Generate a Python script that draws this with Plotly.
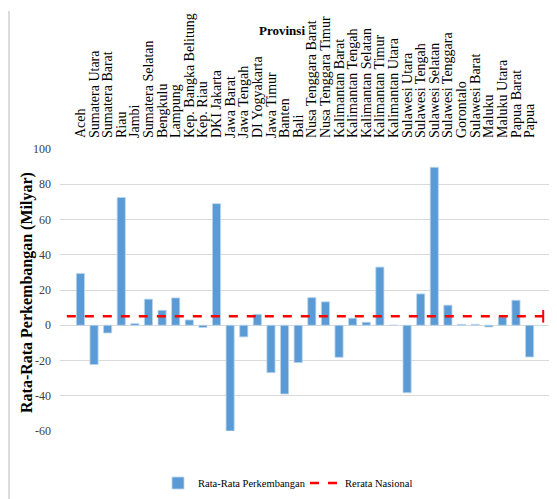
import plotly.graph_objects as go

provinsi = ["Aceh", "Sumatera Utara", "Sumatera Barat", "Riau", "Jambi", "Sumatera Selatan",
            "Bengkulu", "Lampung", "Kep. Bangka Belitung", "Kep. Riau", "DKI Jakarta",
            "Jawa Barat", "Jawa Tengah", "DI Yogyakarta", "Jawa Timur", "Banten", "Bali",
            "Nusa Tenggara Barat", "Nusa Tenggara Timur", "Kalimantan Barat", "Kalimantan Tengah",
            "Kalimantan Selatan", "Kalimantan Timur", "Kalimantan Utara", "Sulawesi Utara",
            "Sulawesi Tengah", "Sulawesi Selatan", "Sulawesi Tenggara", "Gorontalo",
            "Sulawesi Barat", "Maluku", "Maluku Utara", "Papua Barat", "Papua"]
rata_rata = [29.4, -22.3, -4.4, 72.5, 1.0, 14.8, 8.5, 15.5, 3.0, -1.3, 69.0,
             -60.0, -6.6, 6.2, -26.9, -39.0, -21.2, 15.7, 13.3, -18.2, 4.0,
             1.7, 33.0, 0.0, -38.3, 17.8, 89.6, 11.4, 0.5, 0.5, -1.0, 4.7, 14.2, -18.0]
rerata_nasional = 5.1
y_ticks = [-60, -40, -20, 0, 20, 40, 60, 80, 100]
y_ticktext = [str(v) for v in y_ticks]

serif = "Liberation Serif"
idx = list(range(len(provinsi)))

fig = go.Figure()
fig.add_trace(go.Bar(
    x=idx, y=rata_rata, name="Rata-Rata Perkembangan", width=0.6,
    marker=dict(color="#5B9BD5", line=dict(color="#BDD7EE", width=0.8)),
))
line_x = [-1, len(provinsi)]
fig.add_trace(go.Scatter(
    x=line_x, y=[rerata_nasional] * 2, name="Rerata Nasional", mode="lines",
    line=dict(color="#FF0000", width=2.5, dash="dash"),
))
fig.add_trace(go.Scatter(
    x=line_x[1:], y=[rerata_nasional], mode="markers", showlegend=False,
    marker=dict(symbol="line-ns-open", size=9, color="#FF0000",
                line=dict(color="#FF0000", width=2)),
    hoverinfo="skip", cliponaxis=False,
))

# page has an 8px body margin; reference pixel positions are offset by it
OFF = 8
W, H = 557, 499
plot_l, plot_r, plot_t, plot_b = 60 - OFF, 550 - OFF, 149 - OFF, 431 - OFF
L, R, T, B = plot_l, W - plot_r, plot_t, H - plot_b
pw, ph = plot_r - plot_l, plot_b - plot_t


def px(x):
    return (x - OFF - plot_l) / pw


def py(y):
    return (plot_b - (y - OFF)) / ph


fig.update_layout(
    width=W, height=H,
    margin=dict(l=L, r=R, t=T, b=B, autoexpand=False),
    plot_bgcolor="white", paper_bgcolor="white",
    font=dict(family=serif, color="#000000"),
    showlegend=True,
    legend=dict(orientation="h", x=px(158), y=py(483),
                xanchor="left", yanchor="middle",
                font=dict(family=serif, size=10.5, color="#000000"),
                entrywidth=102, entrywidthmode="pixels",
                tracegroupgap=0),
    bargap=0.4,
    xaxis=dict(
        side="top", tickmode="array", tickvals=idx, ticktext=provinsi,
        tickangle=-90, range=[-1.5, len(provinsi) + 0.5], automargin=False,
        showgrid=False, zeroline=False, showline=False, ticks="",
        tickfont=dict(family=serif, size=14, color="#000000"),
        ticklabelstandoff=10,
    ),
    yaxis=dict(
        range=[-60, 100], tickmode="array", tickvals=y_ticks, ticktext=y_ticktext,
        showgrid=True, gridcolor="#D9D9D9", gridwidth=1, zeroline=False,
        showline=False, ticks="", automargin=False,
        tickfont=dict(family=serif, size=12, color="#404040"),
        ticklabelstandoff=8,
    ),
    annotations=[
        dict(text="<b>Provinsi</b>", xref="paper", yref="paper",
             x=px(282), y=py(31), xanchor="center", yanchor="middle", showarrow=False,
             font=dict(family=serif, size=13, color="#000000")),
        dict(text="<b>Rata-Rata Perkembangan (Milyar)</b>", xref="paper", yref="paper",
             x=px(27), y=py(293), xanchor="center", yanchor="middle",
             showarrow=False, textangle=-90,
             font=dict(family=serif, size=16, color="#000000")),
    ],
    shapes=[dict(type="line", xref="paper", yref="paper",
                 x0=px(9), x1=px(9), y0=py(499), y1=py(11),
                 line=dict(color="#D0D0D0", width=1.5))],
)

fig.write_html("out.html")
